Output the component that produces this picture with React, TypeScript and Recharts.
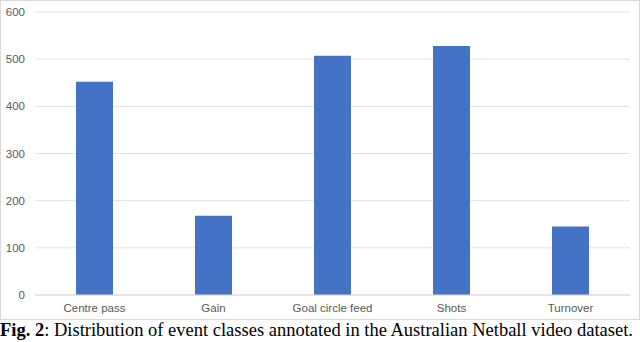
import React from "react";
import { BarChart, Bar, XAxis, YAxis, CartesianGrid } from "recharts";

const categories = ["Centre pass", "Gain", "Goal circle feed", "Shots", "Turnover"];
const counts = [452, 168, 507, 528, 145];
const yTicks = [0, 100, 200, 300, 400, 500, 600];

const data = categories.map((c, i) => ({ name: c, value: counts[i] }));

export default function App() {
  return (
    <div style={{ position: "absolute", left: 0, top: 0, width: 640, height: 342, background: "#fff" }}>
      <div style={{ position: "absolute", left: 0, top: 0, width: 638, height: 318, border: "1px solid #d9d9d9" }} />
      <div style={{ position: "absolute", left: 0, top: 0 }}>
        <BarChart width={640} height={320} data={data} margin={{ top: 12, right: 10, left: 0, bottom: 0 }}>
          <CartesianGrid vertical={false} stroke="#e3e3e3" />
          <XAxis
            dataKey="name"
            height={25}
            axisLine={{ stroke: "#d9d9d9" }}
            tickLine={false}
            tick={{ fill: "#595959", fontSize: 11.5, fontFamily: "Liberation Sans, Arial, sans-serif" }}
            tickMargin={3}
            interval={0}
          />
          <YAxis
            width={35}
            domain={[0, 600]}
            ticks={yTicks}
            axisLine={false}
            tickLine={false}
            tickSize={0}
            tickMargin={10}
            tick={{ fill: "#595959", fontSize: 11.5, fontFamily: "Liberation Sans, Arial, sans-serif" }}
          />
          <Bar dataKey="value" fill="#4472C4" barSize={37} isAnimationActive={false} />
        </BarChart>
      </div>
      <div
        style={{
          position: "absolute",
          left: 0,
          top: 320,
          width: 640,
          fontFamily: "Liberation Serif, 'DejaVu Serif', serif",
          fontSize: 18.5,
          color: "#000",
          whiteSpace: "nowrap",
          lineHeight: "20px",
        }}
      >
        <b>Fig. 2</b>: Distribution of event classes annotated in the Australian Netball video dataset.
      </div>
    </div>
  );
}
